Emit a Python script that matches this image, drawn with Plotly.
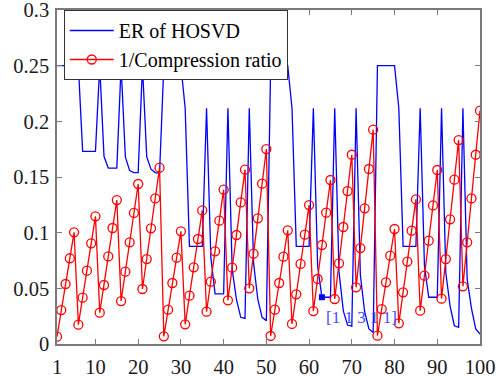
import plotly.graph_objects as go

x_vals = list(range(1, 101))

er_hosvd = [
    0.25, 0.25, 0.25, 0.25, 0.25,
    0.25, 0.173, 0.173, 0.173, 0.173,
    0.25, 0.1686, 0.158, 0.158, 0.158,
    0.25, 0.168, 0.1557, 0.154, 0.154,
    0.25, 0.168, 0.157, 0.154, 0.1533,
    0.25, 0.25, 0.25, 0.25, 0.25,
    0.2117, 0.0877, 0.0877, 0.0877, 0.0877,
    0.2117, 0.078, 0.045, 0.045, 0.045,
    0.2117, 0.067, 0.04, 0.024, 0.023,
    0.2117, 0.073, 0.04, 0.024, 0.021,
    0.25, 0.25, 0.25, 0.25, 0.25,
    0.2117, 0.0877, 0.0877, 0.0877, 0.0877,
    0.2117, 0.07, 0.042, 0.042, 0.042,
    0.2117, 0.065, 0.03, 0.017, 0.016,
    0.2117, 0.062, 0.029, 0.0135, 0.0104,
    0.25, 0.25, 0.25, 0.25, 0.25,
    0.2117, 0.0877, 0.0877, 0.0877, 0.0877,
    0.2117, 0.07, 0.042, 0.042, 0.042,
    0.2117, 0.064, 0.034, 0.0164, 0.015,
    0.2117, 0.058, 0.032, 0.0135, 0.009,
]

inv_cr = [
    0.0066, 0.0305, 0.0539, 0.077, 0.1003,
    0.0174, 0.0416, 0.0659, 0.0904, 0.1147,
    0.0281, 0.053, 0.0787, 0.1042, 0.1293,
    0.0386, 0.065, 0.0913, 0.1177, 0.1437,
    0.0494, 0.0763, 0.1039, 0.1308, 0.1584,
    0.0069, 0.0308, 0.0548, 0.0775, 0.1012,
    0.0177, 0.0434, 0.0689, 0.0943, 0.12,
    0.029, 0.056, 0.0832, 0.1108, 0.1386,
    0.0392, 0.0686, 0.0979, 0.1272, 0.1566,
    0.05, 0.0811, 0.1129, 0.144, 0.1751,
    0.0072, 0.0308, 0.0548, 0.0784, 0.1021,
    0.018, 0.0446, 0.0719, 0.0982, 0.1248,
    0.0296, 0.0584, 0.0889, 0.118, 0.1473,
    0.0404, 0.0725, 0.1051, 0.1374, 0.17,
    0.0509, 0.0862, 0.1219, 0.1572, 0.1925,
    0.0075, 0.0314, 0.0554, 0.0793, 0.1033,
    0.0186, 0.0464, 0.074, 0.1018, 0.1299,
    0.0299, 0.0614, 0.0928, 0.1245, 0.1563,
    0.0407, 0.0763, 0.112, 0.1476, 0.1832,
    0.0518, 0.0913, 0.1308, 0.17, 0.2096,
]

x_ticks = [1, 10, 20, 30, 40, 50, 60, 70, 80, 90, 100]
y_ticks = [0, 0.05, 0.1, 0.15, 0.2, 0.25, 0.3]
y_tick_text = ["0", "0.05", "0.1", "0.15", "0.2", "0.25", "0.3"]

mark_x = 63
mark_label = "[1 1 3 1 1]"

font_fam = "Liberation Serif, Times New Roman, Times, serif"

fig = go.Figure()
fig.add_trace(go.Scatter(
    x=x_vals, y=er_hosvd, mode="lines", name="ER of HOSVD",
    line=dict(color="#0000FF", width=1.3),
))
fig.add_trace(go.Scatter(
    x=x_vals, y=inv_cr, mode="lines+markers", name="1/Compression ratio",
    line=dict(color="#FF0000", width=1.3),
    marker=dict(symbol="circle-open", size=9, color="#FF0000", line=dict(width=1.3)),
))
fig.add_trace(go.Scatter(
    x=[mark_x], y=[er_hosvd[mark_x - 1]], mode="markers", showlegend=False,
    marker=dict(symbol="square", size=6, color="#0000FF"),
))
fig.add_annotation(
    x=mark_x + 0.6, y=er_hosvd[mark_x - 1], text=mark_label, showarrow=False,
    xanchor="left", yanchor="top", yshift=-9,
    font=dict(family=font_fam, size=17, color="#4a4aff"),
)

axis_common = dict(
    showgrid=False, zeroline=False, showline=True, mirror="ticks",
    linecolor="#7a7a7a", linewidth=1.5, ticks="inside", ticklen=5,
    tickcolor="#7a7a7a", tickwidth=1, automargin=False,
    ticklabeloverflow="allow",
    tickfont=dict(family=font_fam, size=20.5, color="#1a1a1a"),
)

fig.update_layout(
    width=503, height=378,
    margin=dict(l=57, r=23, t=10, b=34),
    paper_bgcolor="white", plot_bgcolor="white",
    xaxis=dict(range=[1, 100], tickvals=x_ticks, ticklabelstandoff=4, **axis_common),
    yaxis=dict(range=[0, 0.3], tickvals=y_ticks, ticktext=y_tick_text, ticklabelstandoff=2, **axis_common),
    legend=dict(
        x=0.016, y=1.0, xanchor="left", yanchor="top",
        bgcolor="white", bordercolor="#333333", borderwidth=1,
        font=dict(family=font_fam, size=20, color="black"),
        itemwidth=44, tracegroupgap=0,
    ),
    showlegend=True,
)

fig.write_html("out.html")
